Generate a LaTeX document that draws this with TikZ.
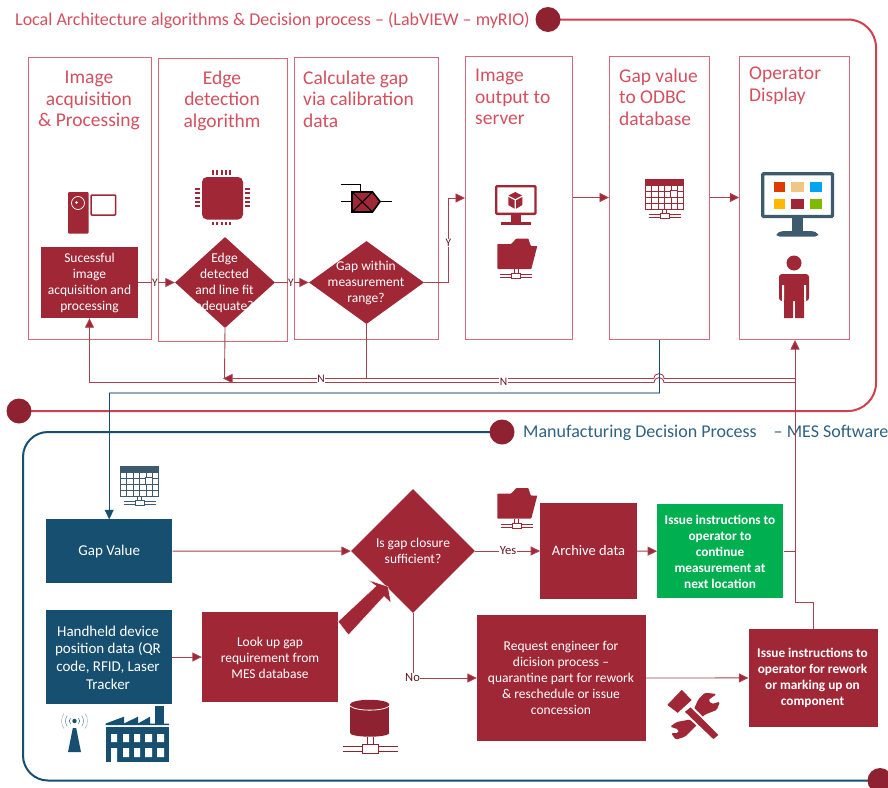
\documentclass[tikz,border=0pt]{standalone}
\usepackage{fontspec}
\setmainfont{Carlito}
\usetikzlibrary{arrows.meta,shapes.geometric}
\definecolor{crim}{HTML}{A02735}
\definecolor{crimdk}{HTML}{8E2231}
\definecolor{rose}{HTML}{D1404F}
\definecolor{boxline}{HTML}{DA6778}
\definecolor{titlec}{HTML}{D4505F}
\definecolor{navy}{HTML}{174F70}
\definecolor{navytxt}{HTML}{2E6382}
\definecolor{slate}{HTML}{3D5A6E}
\definecolor{paleblue}{HTML}{93ABBD}
\definecolor{grn}{HTML}{00B050}
\definecolor{lnk}{HTML}{A8404F}
\definecolor{tileA}{HTML}{DC3C00}
\definecolor{tileB}{HTML}{EEC784}
\definecolor{tileC}{HTML}{00A4EF}
\definecolor{tileD}{HTML}{FFB900}
\definecolor{tileE}{HTML}{7FBA00}
\tikzset{
  x=1pt,y=-1pt,
  panel/.style={draw=boxline,line width=1pt,fill=white,inner sep=0pt},
  fillbox/.style={fill=crim,draw=none,inner sep=0pt,text=white},
  navybox/.style={fill=navy,draw=none,inner sep=0pt,text=white},
  grnbox/.style={fill=grn,draw=none,inner sep=0pt,text=white},
  dia/.style={diamond,fill=crim,draw=none,inner sep=0pt,aspect=1},
  headtxt/.style={text=titlec,font=\fontsize{19.5}{21.5}\selectfont,inner sep=0pt,align=center},
  headleft/.style={text=titlec,font=\fontsize{19.5}{21.5}\selectfont,inner sep=0pt,align=left,anchor=west},
  smalltxt/.style={text=white,font=\fontsize{13.5}{16}\selectfont,inner sep=0pt,align=center},
  boldtxt/.style={text=white,font=\fontsize{13.3}{16}\selectfont\bfseries,inner sep=0pt,align=center},
  lnkline/.style={draw=lnk,line width=0.9pt},
  arr/.style={lnkline,-{Triangle[length=9.5pt,width=9pt,fill=crim]}},
  tag/.style={fill=white,inner sep=0.6pt,text=crimdk!70!black,font=\fontsize{11.5}{12}\selectfont},
  dot/.style={circle,fill=crimdk,draw=none,minimum size=25pt,inner sep=0pt},
}
\newcommand{\netIcon}[4]{% cx, top, scale, colour
  \begin{scope}[shift={(#1,#2)},scale=#3]
    \draw[#4,line width=0.8pt] (-2,0) -- (-2,5) (2,0) -- (2,5);
    \draw[#4,line width=0.9pt] (-16,5.5) -- (16,5.5) (-16,8.5) -- (16,8.5);
    \draw[#4,line width=0.9pt,fill=white] (-4.5,4.5) rectangle (4.5,9.5);
  \end{scope}}
\newcommand{\folderIcon}[2]{% left, top
  \begin{scope}[shift={(#1,#2)}]
    \fill[crim,rounded corners=0.7pt] (0,6) -- (14,6) -- (19,0.5) -- (31,0.5) -- (33.5,8) -- (40,8) -- (34,31) -- (0,31) -- cycle;
  \end{scope}}
\newcommand{\tableIcon}[3]{% left, top, colour
  \begin{scope}[shift={(#1,#2)}]
    \fill[white] (0,0) rectangle (38,30);
    \fill[#3] (0,0) rectangle (38,6.5);
    \draw[#3,line width=0.9pt] (0,0) rectangle (38,30);
    \foreach \k in {6,12.5,19,25.5,32} \draw[#3,line width=0.6pt] (\k,6.5) -- (\k,30);
    \foreach \k in {12,18,24} \draw[#3,line width=0.6pt] (0,\k) -- (38,\k);
    \draw[#3,line width=0.9pt,fill=white] (24.5,11) rectangle (32,18.5);
  \end{scope}}
\begin{document}
\begin{tikzpicture}
\useasboundingbox (0,0) rectangle (888,787);
\fill[white] (0,0) rectangle (888,787);

% --- frames
\coordinate (fr1a) at (548,19.5);
\coordinate (fr1b) at (19,411);
\draw[rose,line width=2pt,rounded corners=28pt] (fr1a) -- (876,19.5) -- (876,411) -- (fr1b);
\coordinate (fr2a) at (502,432);
\coordinate (fr2b) at (880,780.5);
\draw[navy,line width=2pt,rounded corners=25pt] (fr2a) -- (23,432) -- (23,780.5) -- (fr2b);
\node[dot] (c1) at (fr1a) {};
\node[dot] (c2) at (fr1b) {};
\node[dot] (c3) at (fr2a) {};
\node[dot] (c4) at (fr2b) {};
\node[text=titlec,font=\fontsize{18}{20}\selectfont,inner sep=0pt,anchor=west] (title1) at (15,20.5) {Local Architecture algorithms \& Decision process – (LabVIEW – myRIO)};
\node[text=navytxt,font=\fontsize{18}{20}\selectfont,inner sep=0pt,anchor=west] (title2) at (523,433) {Manufacturing Decision Process\hspace{17pt}– MES Software};

% --- upper panels
\node[panel,minimum width=123pt,minimum height=282pt] (b1) at (89.5,198.5) {};
\node[panel,minimum width=129pt,minimum height=283.5pt] (b2) at (223,200.2) {};
\node[panel,minimum width=144pt,minimum height=282pt] (b3) at (366.5,198.5) {};
\node[panel,minimum width=107pt,minimum height=283.5pt] (b4) at (519,197.8) {};
\node[panel,minimum width=100pt,minimum height=283.5pt] (b5) at (659.5,197.8) {};
\node[panel,minimum width=109.5pt,minimum height=283.5pt] (b6) at (794.5,197.8) {};
\node[headtxt] (h1) at (89,100.5) {Image\\acquisition\\\& Processing};
\node[headtxt] (h2) at (222,100.5) {Edge\\detection\\algorithm};
\node[headleft] (h3) at (303,99) {Calculate gap\\via calibration\\data};
\node[headleft] (h4) at (475,97) {Image\\output to\\server};
\node[headleft] (h5) at (619,97) {Gap value\\to ODBC\\database};
\node[headleft] (h6) at (749,85.5) {Operator\\Display};

% --- process shapes, upper
\node[fillbox,minimum width=97pt,minimum height=71pt] (s1) at (89.5,282.5) {};
\node[smalltxt] (s1t) at (89.5,283) {Sucessful\\image\\acquisition and\\processing};
\node[dia,minimum width=100pt,minimum height=91pt] (d1) at (225,282.5) {};
\node[smalltxt] (d1t) at (224.5,283) {Edge\\detected\\and line fit\\adequate?};
\node[dia,minimum width=115pt,minimum height=83pt] (d2) at (366.5,282.5) {};
\node[smalltxt] (d2t) at (366,283) {Gap within\\measurement\\range?};

% --- upper connectors
\coordinate (ret1) at (223,378.5);
\coordinate (busR) at (795,378.5);
\coordinate (busS) at (795,382.5);
\draw[lnkline] (busS) -- (664,382.5) .. controls (663,376) and (655,376) .. (654,382.5) -- (89.5,382.5) -- (89.5,330);
\draw[arr] (89.5,382.5) -- (s1.south);
\draw[lnkline] (d1.south) -- (224.5,378.5);
\draw[lnkline] (d2.south) -- (366.5,378.5);
\draw[arr] (busR) -- (664,378.5) .. controls (664,372) and (654,372) .. (654,378.5) -- (ret1);
\node[tag] (n1) at (321,378.5) {N};
\node[tag] (n2) at (503.5,382) {N};
\draw[arr] (s1) -- (d1);
\node[tag] (y1) at (155,282.5) {Y};
\draw[arr] (d1) -- (d2);
\node[tag] (y2) at (291,282.5) {Y};
\draw[arr] (d2.east) -- (448.5,282.5) -- (448.5,198) -- (b4.west |- 0,198);
\node[tag] (y3) at (448.5,243) {Y};
\draw[arr] (b4.east |- 0,197.5) -- (b5.west |- 0,197.5);
\draw[arr] (b5.east |- 0,197.5) -- (b6.west |- 0,197.5);

% --- lower shapes
\node[navybox,minimum width=126.5pt,minimum height=63.5pt,font=\fontsize{15}{17}\selectfont] (gv) at (109.2,551.2) {Gap Value};
\node[navybox,minimum width=126pt,minimum height=94pt] (hh) at (108.5,657) {};
\node[smalltxt,font=\fontsize{15}{17.7}\selectfont] (hht) at (108,657.5) {Handheld device\\position data (QR\\code, RFID, Laser\\Tracker};
\node[fillbox,minimum width=136pt,minimum height=90pt] (lu) at (270,657) {};
\node[smalltxt] (lut) at (270,657.5) {Look up gap\\requirement from\\MES database};
\node[dia,minimum width=124pt,minimum height=124pt] (d3) at (413,551) {};
\node[smalltxt] (d3t) at (413,551) {Is gap closure\\sufficient?};
\node[fillbox,minimum width=96.4pt,minimum height=96.3pt,font=\fontsize{14.5}{16}\selectfont] (ar) at (588.5,551) {Archive data};
\node[grnbox,minimum width=126pt,minimum height=94pt] (gr) at (720.3,551.3) {};
\node[boldtxt] (grt) at (720,551.5) {Issue instructions to\\operator to\\continue\\measurement at\\next location};
\node[fillbox,minimum width=168.6pt,minimum height=126pt] (rq) at (561.3,678) {};
\node[smalltxt] (rqt) at (561,678) {Request engineer for\\dicision process –\\quarantine part for rework\\\& reschedule or issue\\concession};
\node[fillbox,minimum width=129.3pt,minimum height=97.7pt] (is) at (813.3,677.9) {};
\node[boldtxt] (ist) at (812.5,678) {Issue instructions to\\operator for rework\\or marking up on\\component};

% --- lower connectors
\draw[paleblue,line width=1.1pt] (b5.south |- 0,393) -- (109.2,393);
\draw[navy,line width=0.9pt] (b5.south) -- (659.5,393);
\draw[navy,line width=0.9pt,-{Triangle[length=9.5pt,width=9pt]}] (109.2,393) -- (gv.north);
\draw[arr] (gv) -- (d3);
\draw[arr] (hh) -- (lu);
\draw[arr] (d3) -- (ar);
\node[tag,font=\fontsize{12.5}{13}\selectfont] (yes) at (508,550.5) {Yes};
\draw[arr] (ar) -- (gr);
\draw[arr] (d3.south) -- (413,678) -- (rq.west);
\node[tag,font=\fontsize{12.5}{13}\selectfont] (no) at (412.5,677.5) {No};
\draw[arr] (rq) -- (is);
\draw[lnkline] (gr.east) -- (795,551.3);
\draw[arr] (is.north) -- (813.3,602) -- (795,602) -- (795,340);
\draw[fill=crim,draw=white,line width=0.4pt] (338,621.5) -- (376,586) -- (368,580) -- (388,586.5) -- (391,603) -- (384,596.5) -- (348.5,635) -- cycle;

% --- icons: camera
\fill[crim,rounded corners=1pt] (68,192) rectangle (88.7,233.5);
\draw[white,line width=0.7pt] (78,203) circle (6.5);
\fill[white] (76.5,202.5) circle (1.3);
\draw[crim,line width=1.5pt,rounded corners=1pt] (91,195) rectangle (115.7,215);
% chip
\foreach \k in {0,1,2,3,4} {
  \fill[crim] ({212+\k*4.3},170) rectangle ({214+\k*4.3},225);
  \fill[crim] (195,{188+\k*4.3}) rectangle (250,{190+\k*4.3});
}
\fill[white] (200,175) rectangle (245,221.5);
\fill[crim,rounded corners=5pt] (202,177) rectangle (243,219.5);
% gate symbol
\draw[black,line width=0.8pt] (341,184) -- (360,184) -- (360,192);
\draw[black,line width=0.8pt] (341,201.5) -- (352,201.5) (380,201.5) -- (392,201.5);
\draw[black,line width=1.6pt,fill=crim] (352,192) -- (372.5,192) -- (380,201.5) -- (372.5,212) -- (352,212) -- cycle;
\draw[black,line width=1.1pt] (352,192) -- (372.5,212) (352,212) -- (372.5,192);
% monitor + cube
\draw[crim,line width=2.4pt,rounded corners=1pt] (496.2,186.2) rectangle (535.5,213.8);
\fill[crim] (511,215) rectangle (521,222);
\fill[crim] (501,222) rectangle (531,225);
\fill[crim] (515.3,192) -- (522,195.5) -- (515.3,199) -- (508.5,195.5) -- cycle;
\fill[crim] (508.3,197) -- (514.5,200.2) -- (514.5,208.7) -- (508.3,205) -- cycle;
\fill[crim] (522.3,197) -- (516.2,200.2) -- (516.2,208.7) -- (522.3,205) -- cycle;
\folderIcon{497.3}{238}
\netIcon{516}{269}{1}{crim}
% calendar
\tableIcon{645.5}{179}{crim}
\netIcon{664.5}{209}{1}{crim}
% big monitor
\draw[slate,line width=3.4pt,rounded corners=1pt] (762.7,173.7) rectangle (832.5,216.5);
\fill[slate] (792,218) rectangle (803,231);
\fill[slate,rounded corners=3pt] (776.5,236.5) -- (776.5,233) -- (782,231) -- (813,231) -- (818,233) -- (818,236.5) -- cycle;
\fill[tileA] (774,181.5) rectangle (785,192);
\fill[tileB] (791,181.5) rectangle (803.5,192);
\fill[tileC] (809.5,181.5) rectangle (821.5,192);
\fill[tileD] (774,198.5) rectangle (785,209);
\fill[crim] (791,198.5) rectangle (803.5,209);
\fill[tileE] (809.5,198.5) rectangle (821.5,209);
% person
\fill[crim] (794,263) circle (7.5);
\fill[crim,rounded corners=3pt] (779,301) -- (779,274) -- (809,274) -- (809,301) -- cycle;
\fill[white] (782,285) rectangle (784,301) (804,285) rectangle (806,301);
\fill[crim] (784,300) rectangle (793,318) (795,300) rectangle (804,318);
% blue table
\tableIcon{120.5}{466.3}{slate}
\netIcon{139.5}{496.3}{1}{slate}
% antenna
\fill[navy] (72.8,728) -- (76.2,728) -- (81,752) -- (68,752) -- cycle;
\fill[navy] (74.5,721) circle (2.2);
\foreach \r/\o in {5/1,9/0.7,13/0.4} {
  \draw[navy,opacity=\o,line width=0.5pt] (74.5,721) ++(-35:\r) arc[start angle=-35,end angle=35,radius=\r];
  \draw[navy,opacity=\o,line width=0.5pt] (74.5,721) ++(145:\r) arc[start angle=145,end angle=215,radius=\r];
}
% factory
\fill[navy] (155.3,706) rectangle (164,724);
\fill[navy] (105.7,723.5) -- (124,716.7) -- (124,723.5) -- (138,716.7) -- (138,723.5) -- (150,716.7) -- (150,723.5) -- (169,723.5) -- (169,725) -- (105.7,725) -- cycle;
\fill[navy] (105.7,727) rectangle (169,762);
\fill[white] (111,734) rectangle (117,742) (123,734) rectangle (129,742) (134,734) rectangle (140,742) (145,734) rectangle (152,742) (157,734) rectangle (164,742);
\fill[white] (111,748) rectangle (117,762) (123,748) rectangle (129,757) (134,748) rectangle (140,757) (145,748) rectangle (152,757) (157,748) rectangle (164,757);
% database
\fill[crimdk] (350,705) rectangle (389.4,733);
\fill[crimdk] (369.7,733) ellipse (19.7 and 3.7);
\fill[crimdk] (369.7,704.5) ellipse (19.7 and 4.7);
\draw[white,line width=0.8pt] (350,706) .. controls (356,711.5) and (383.5,711.5) .. (389.4,706);
\netIcon{370.3}{737}{1.7}{crimdk}
% folder 2
\folderIcon{497.3}{487.5}
\netIcon{516.5}{519}{1}{crim}
% tools
\fill[crim,rounded corners=1.5pt] (698.3,699.3) -- (705,692.7) -- (716.7,694) -- (708.3,700) -- (711.7,704) -- (720,701.7) -- (716.7,710) -- (705,714.5) -- (695,724) -- (690,718) -- cycle;
\fill[crim,rounded corners=1.5pt] (690,719.5) -- (676.7,722) -- (670,726.7) -- (678.3,729.3) -- (678.3,733) -- (671,733) -- (675.7,739.7) -- (685,736.7) -- (697,725) -- cycle;
\draw[white,line width=1.8pt,fill=crim] (683.3,711.7) -- (690.7,706) -- (720,735) -- (713.3,740.5) -- cycle;
\draw[white,line width=1.2pt,fill=crim] (666.2,705) -- (681.7,688.8) -- (692.8,700) -- (677.7,713.8) -- cycle;
\end{tikzpicture}
\end{document}
